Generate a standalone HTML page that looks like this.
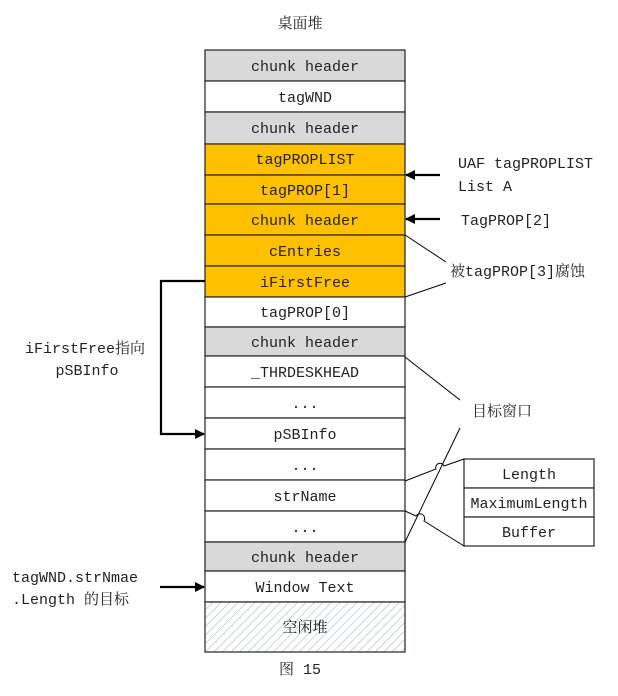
<!DOCTYPE html>
<html><head><meta charset="utf-8"><style>
body{margin:0;background:#fff}
svg text{font-family:"Liberation Mono","Noto Serif CJK SC","Noto Sans CJK SC",monospace;font-size:15px;fill:#222}
</style></head><body>
<svg width="618" height="691" viewBox="0 0 618 691" xmlns="http://www.w3.org/2000/svg">
<defs>
<pattern id="h" width="6" height="6" patternUnits="userSpaceOnUse" patternTransform="rotate(45)">
<rect width="6" height="6" fill="#fff"/><line x1="0" y1="0" x2="0" y2="6" stroke="#a8b8d8" stroke-width="1.2"/>
</pattern>
<marker id="a" markerWidth="10" markerHeight="10" refX="9" refY="5" orient="auto" markerUnits="userSpaceOnUse">
<path d="M0,0 L10,5 L0,10 z" fill="#000"/></marker>
</defs>
<text x="300" y="28" text-anchor="middle">桌面堆</text>
<g stroke="#222" stroke-width="1.2">
<rect x="205" y="50" width="200" height="31" fill="#d9d9d9"/>
<rect x="205" y="81" width="200" height="31" fill="#fff"/>
<rect x="205" y="112" width="200" height="32" fill="#d9d9d9"/>
<rect x="205" y="144" width="200" height="31" fill="#ffc000"/>
<rect x="205" y="175" width="200" height="29" fill="#ffc000"/>
<rect x="205" y="204" width="200" height="31" fill="#ffc000"/>
<rect x="205" y="235" width="200" height="31" fill="#ffc000"/>
<rect x="205" y="266" width="200" height="31" fill="#ffc000"/>
<rect x="205" y="297" width="200" height="30" fill="#fff"/>
<rect x="205" y="327" width="200" height="29" fill="#d9d9d9"/>
<rect x="205" y="356" width="200" height="31" fill="#fff"/>
<rect x="205" y="387" width="200" height="31" fill="#fff"/>
<rect x="205" y="418" width="200" height="31" fill="#fff"/>
<rect x="205" y="449" width="200" height="31" fill="#fff"/>
<rect x="205" y="480" width="200" height="31" fill="#fff"/>
<rect x="205" y="511" width="200" height="31" fill="#fff"/>
<rect x="205" y="542" width="200" height="29" fill="#d9d9d9"/>
<rect x="205" y="571" width="200" height="31" fill="#fff"/>
<rect x="205" y="602" width="200" height="50" fill="url(#h)"/>
<rect x="464" y="459" width="130" height="29" fill="#fff"/>
<rect x="464" y="488" width="130" height="29" fill="#fff"/>
<rect x="464" y="517" width="130" height="29" fill="#fff"/>
</g>
<g text-anchor="middle">
<text x="305" y="71">chunk header</text>
<text x="305" y="102">tagWND</text>
<text x="305" y="133">chunk header</text>
<text x="305" y="164">tagPROPLIST</text>
<text x="305" y="195">tagPROP[1]</text>
<text x="305" y="225">chunk header</text>
<text x="305" y="256">cEntries</text>
<text x="305" y="287">iFirstFree</text>
<text x="305" y="317">tagPROP[0]</text>
<text x="305" y="347">chunk header</text>
<text x="305" y="377">_THRDESKHEAD</text>
<text x="305" y="408">...</text>
<text x="305" y="439">pSBInfo</text>
<text x="305" y="470">...</text>
<text x="305" y="501">strName</text>
<text x="305" y="532">...</text>
<text x="305" y="562">chunk header</text>
<text x="305" y="592">Window Text</text>
<text x="305" y="632">空闲堆</text>
<text x="529" y="479">Length</text>
<text x="529" y="508">MaximumLength</text>
<text x="529" y="537">Buffer</text>
<text x="87" y="375">pSBInfo</text>
<text x="300" y="674">图 15</text>
</g>
<text x="458" y="168">UAF tagPROPLIST</text>
<text x="458" y="191">List A</text>
<text x="461" y="225">TagPROP[2]</text>
<text x="450" y="276">被tagPROP[3]腐蚀</text>
<text x="25" y="353">iFirstFree指向</text>
<text x="472" y="416">目标窗口</text>
<text x="12" y="582">tagWND.strNmae</text>
<text x="12" y="604">.Length 的目标</text>
<g stroke="#000" fill="none">
<line x1="440" y1="175" x2="406" y2="175" stroke-width="2.2" marker-end="url(#a)"/>
<line x1="440" y1="219" x2="406" y2="219" stroke-width="2.2" marker-end="url(#a)"/>
<polyline points="205,281 161,281 161,434 204,434" stroke-width="2.2" marker-end="url(#a)"/>
<line x1="160" y1="587" x2="204" y2="587" stroke-width="2.2" marker-end="url(#a)"/>
<g stroke-width="1">
<line x1="405" y1="235" x2="446" y2="262"/>
<line x1="446" y1="283" x2="405" y2="297"/>
<line x1="405" y1="357" x2="460" y2="400"/>
<line x1="460" y1="428" x2="405" y2="542"/>
<path d="M405,481 L436,469 A4,4 0 0 1 444,466 L464,459"/>
<path d="M405,511 L416,516 A4,4 0 0 1 424,521 L464,546"/>
</g>
</g>
</svg>
</body></html>
